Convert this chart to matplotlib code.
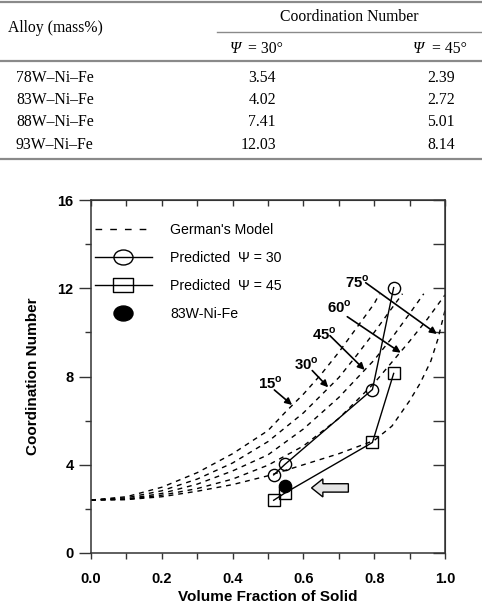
import matplotlib
matplotlib.use('Agg')
import matplotlib.pyplot as plt
import numpy as np
from matplotlib.lines import Line2D
from matplotlib.path import Path
from matplotlib.patches import FancyArrow

plt.rcParams['font.family'] = ['Liberation Sans', 'DejaVu Sans']
plt.rcParams['mathtext.fontset'] = 'custom'
plt.rcParams['mathtext.bf'] = 'Liberation Sans:bold'
plt.rcParams['mathtext.rm'] = 'Liberation Sans'

# Таблица
alloys = ['78W–Ni–Fe', '83W–Ni–Fe', '88W–Ni–Fe', '93W–Ni–Fe']
cn_30 = [3.54, 4.02, 7.41, 12.03]
cn_45 = [2.39, 2.72, 5.01, 8.14]

# Объемная доля твердой фазы для сплавов
vol_frac = [0.516, 0.548, 0.795, 0.855]
exp_vs = [0.548]
exp_cn = [3.02]

# Модель German'а для разных двугранных углов
vs_15 = [0, 0.1, 0.2, 0.3, 0.4, 0.5, 0.55, 0.6, 0.65, 0.7, 0.75, 0.8, 0.815]
cn_15 = [2.4, 2.55, 2.98, 3.64, 4.5, 5.55, 6.4, 7.2, 8.1, 9.1, 10.2, 11.3, 11.75]
vs_30 = [0, 0.1, 0.2, 0.3, 0.4, 0.5, 0.6, 0.7, 0.75, 0.8, 0.85, 0.88]
cn_30m = [2.4, 2.5, 2.82, 3.35, 4.08, 5.05, 6.35, 7.95, 8.95, 10.0, 11.1, 11.75]
vs_45 = [0, 0.1, 0.2, 0.3, 0.4, 0.5, 0.6, 0.7, 0.8, 0.85, 0.9, 0.94]
cn_45m = [2.4, 2.45, 2.7, 3.12, 3.72, 4.45, 5.62, 7.05, 8.75, 9.75, 10.85, 11.75]
vs_60 = [0, 0.1, 0.2, 0.3, 0.4, 0.5, 0.6, 0.7, 0.8, 0.85, 0.9, 0.95, 1.0]
cn_60 = [2.4, 2.43, 2.62, 2.92, 3.35, 3.98, 4.85, 6.1, 7.7, 8.65, 9.6, 10.6, 11.7]
vs_75 = [0, 0.1, 0.2, 0.3, 0.4, 0.5, 0.6, 0.7, 0.8, 0.85, 0.9, 0.93, 0.96, 0.98, 1.0]
cn_75 = [2.4, 2.42, 2.55, 2.8, 3.1, 3.5, 4.0, 4.5, 5.1, 5.75, 6.9, 7.7, 8.7, 9.7, 11.0]

angle_labels = ['15', '30', '45', '60', '75']

xtick_vals = [0.0, 0.2, 0.4, 0.6, 0.8, 1.0]
xtick_labels = ['0.0', '0.2', '0.4', '0.6', '0.8', '1.0']
ytick_vals = [0, 4, 8, 12, 16]
ytick_labels = ['0', '4', '8', '12', '16']

W, H = 482, 608
fig = plt.figure(figsize=(W / 100, H / 100), dpi=100)


def fx(px):
    return px / W


def fy(py):
    return 1 - py / H


# ---- таблица сверху ----
serif = ['Liberation Serif', 'DejaVu Serif']
fs_tab = 11.3
rule_c = '#8a8a8a'
for yy, x0, lw in [(1.5, 0, 1.6), (31.7, 217, 1.0), (61, 0, 1.6), (159.3, 0, 1.6)]:
    fig.add_artist(Line2D([fx(x0), 1], [fy(yy), fy(yy)], color=rule_c, lw=lw))

fig.text(fx(8.3), fy(32.5), 'Alloy (mass%)', family=serif, fontsize=fs_tab, va='baseline')
fig.text(fx(349.7), fy(20.7), 'Coordination Number', family=serif, fontsize=fs_tab,
         ha='center', va='baseline')
fig.text(fx(230), fy(53), 'Ψ', family=serif, fontsize=fs_tab, style='italic', va='baseline')
fig.text(fx(248), fy(53), '= 30°', family=serif, fontsize=fs_tab, va='baseline')
fig.text(fx(413), fy(53), 'Ψ', family=serif, fontsize=fs_tab, style='italic', va='baseline')
fig.text(fx(432), fy(53), '= 45°', family=serif, fontsize=fs_tab, va='baseline')

row_base = [81.7, 104, 126, 149]
for name, a, b, yb in zip(alloys, cn_30, cn_45, row_base):
    fig.text(fx(16), fy(yb), name, family=serif, fontsize=fs_tab, va='baseline')
    fig.text(fx(276), fy(yb), f'{a:.2f}', family=serif, fontsize=fs_tab, ha='right', va='baseline')
    fig.text(fx(455), fy(yb), f'{b:.2f}', family=serif, fontsize=fs_tab, ha='right', va='baseline')

# ---- график ----
ax = fig.add_axes([fx(91), 1 - 553 / H, (445 - 91) / W, (553 - 200) / H])
ax.set_xlim(0, 1)
ax.set_ylim(0, 16)

dash = (0, (3.5, 3.5))
for vs, cn in [(vs_15, cn_15), (vs_30, cn_30m), (vs_45, cn_45m), (vs_60, cn_60), (vs_75, cn_75)]:
    ax.plot(vs, cn, color='k', lw=1.0, linestyle=dash, zorder=2)

ax.plot(vol_frac, cn_30, color='k', lw=1.0, marker='o', ms=8.8, mfc='none', mec='k', mew=1.0, zorder=3)
ax.plot(vol_frac, cn_45, color='k', lw=1.0, marker='s', ms=8.8, mfc='none', mec='k', mew=1.0, zorder=3)
ax.plot(exp_vs, exp_cn, 'o', color='k', ms=8.8, zorder=5)

ax.add_patch(FancyArrow(0.727, 2.95, -0.104, 0, width=0.38, head_width=0.82, head_length=0.032,
                        length_includes_head=True, fc='#e4e4e4', ec='k', lw=1.0, zorder=4))

# подписи углов со стрелками
text_pos = [(0.471, 7.47), (0.573, 8.33), (0.625, 9.66), (0.668, 10.91), (0.718, 12.04)]
arr_from = [(0.518, 7.39), (0.625, 8.27), (0.675, 9.85), (0.724, 10.71), (0.776, 12.25)]
arr_to = [(0.568, 6.71), (0.670, 7.51), (0.773, 8.30), (0.875, 9.08), (0.977, 9.93)]
for lab, tp, a0, a1 in zip(angle_labels, text_pos, arr_from, arr_to):
    ax.text(tp[0], tp[1], r'$\mathbf{' + lab + r'}^{\mathbf{o}}$', fontsize=10.8,
            ha='left', va='baseline', zorder=6)
    ax.annotate('', xy=a1, xytext=a0,
                arrowprops=dict(arrowstyle='-|>', color='k', lw=1.2, mutation_scale=10,
                                shrinkA=0, shrinkB=0), zorder=6)

# оси и тики
spine_c = '#333333'
for s in ax.spines.values():
    s.set_color(spine_c)
    s.set_linewidth(1.1)

ax.set_xticks(xtick_vals, xtick_labels, fontweight='bold', fontsize=10.5)
ax.set_xticks(np.arange(0.1, 1.0, 0.2), minor=True)
ax.set_yticks(ytick_vals, ytick_labels, fontweight='bold', fontsize=10.5)
ax.set_yticks([2, 6, 10, 14], minor=True)
ax.tick_params(axis='x', which='major', direction='out', length=4, width=1, pad=10, color=spine_c)
ax.tick_params(axis='x', which='minor', direction='out', length=4, width=1, color=spine_c)
ax.tick_params(axis='y', which='major', direction='out', length=8.5, width=1, pad=4, color=spine_c)
ax.tick_params(axis='y', which='minor', direction='out', length=4.5, width=1, color=spine_c)

top = ax.secondary_xaxis('top')
top.set_xticks(np.round(np.arange(0, 1.01, 0.1), 1), [''] * 11)
top.tick_params(direction='in', length=4.5, width=1, color=spine_c)
top.spines['top'].set_color(spine_c)
right = ax.secondary_yaxis('right')
right.set_yticks(np.arange(0, 17, 2), [''] * 9)
right.tick_params(direction='in', length=8.5, width=1, color=spine_c)
right.spines['right'].set_color(spine_c)

ax.set_xlabel('Volume Fraction of Solid', fontsize=11, fontweight='bold', va='center')
ax.xaxis.set_label_coords(0.5, -(596.7 - 553) / 353)
ax.set_ylabel('Coordination Number', fontsize=11, fontweight='bold', va='center')
ax.yaxis.set_label_coords(-(91 - 33) / 354, 0.5)

# легенда
ell = Path.unit_circle()
ell_path = Path(ell.vertices * [1.27, 1.0], ell.codes)
rect_path = Path([(-1.27, -1), (1.27, -1), (1.27, 1), (-1.27, 1), (-1.27, -1)],
                 [Path.MOVETO, Path.LINETO, Path.LINETO, Path.LINETO, Path.CLOSEPOLY])
handles = [
    Line2D([], [], color='k', lw=1.0, linestyle=(0, (4.8, 5.8))),
    Line2D([], [], color='k', lw=1.0, marker=ell_path, ms=13.7, mfc='none', mec='k', mew=1.0),
    Line2D([], [], color='k', lw=1.0, marker=rect_path, ms=13.7, mfc='none', mec='k', mew=1.0),
    Line2D([], [], color='k', lw=0, marker=ell_path, ms=13.7, mfc='k', mec='k'),
]
labels = ["German's Model", 'Predicted  Ψ = 30', 'Predicted  Ψ = 45', '83W-Ni-Fe']
ax.legend(handles, labels, loc='upper left', bbox_to_anchor=((95 - 91) / 354, (553 - 223) / 353),
          frameon=False, fontsize=10.2, handlelength=4.0, handletextpad=1.3,
          labelspacing=0.99, borderaxespad=0, borderpad=0)

fig.savefig('out.png', dpi=100)
